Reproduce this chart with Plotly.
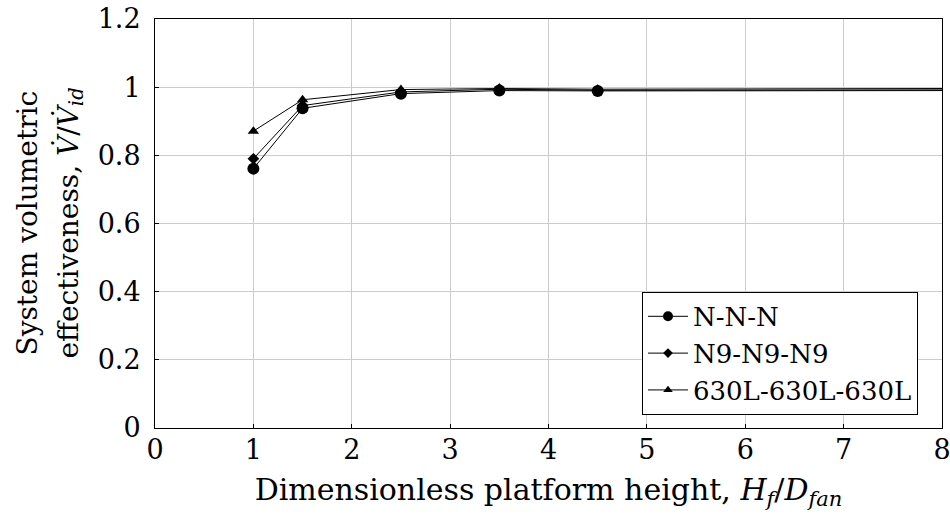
import plotly.graph_objects as go

x_vals = [1, 1.5, 2.5, 3.5, 4.5, 8]
nnn = [0.761, 0.938, 0.981, 0.990, 0.989, 0.990]
n9 = [0.790, 0.946, 0.986, 0.994, 0.991, 0.992]
l630 = [0.871, 0.963, 0.993, 0.996, 0.994, 0.996]
names = ["N-N-N", "N9-N9-N9", "630L-630L-630L"]
x_ticks = [0, 1, 2, 3, 4, 5, 6, 7, 8]
y_ticks = [0, 0.2, 0.4, 0.6, 0.8, 1, 1.2]
y_tick_text = ["0", "0.2", "0.4", "0.6", "0.8", "1", "1.2"]
y_title_lines = ["System volumetric", "effectiveness, <i>V\u0307</i>/<i>V\u0307<sub>id</sub></i>"]
x_title = "Dimensionless platform height, <i>H<sub>f</sub></i>/<i>D<sub>fan</sub></i>"

FONT = "DejaVu Serif"
symbols = ["circle", "diamond", "triangle-up"]
sizes = [12, 9, 10]

fig = go.Figure()
for ys, nm, sym, sz in zip([nnn, n9, l630], names, symbols, sizes):
    msize = [sz] * (len(x_vals) - 1) + [0]
    fig.add_trace(go.Scatter(
        x=x_vals, y=ys, name=nm, mode="lines+markers",
        line=dict(color="#000000", width=1),
        marker=dict(symbol=sym, size=msize, color="#000000", opacity=1,
                    line=dict(width=0, color="#000000")),
        cliponaxis=False,
    ))

tickfont = dict(family=FONT, size=27, color="#000000")
titlefont = dict(family=FONT, size=28, color="#000000")
xtitlefont = dict(family=FONT, size=30, color="#000000")

fig.update_layout(
    width=950, height=516,
    template="simple_white",
    margin=dict(l=155, r=8, t=19, b=88, autoexpand=False),
    paper_bgcolor="white", plot_bgcolor="white",
    font=dict(family=FONT, size=28, color="#000000"),
    showlegend=True,
)
common = dict(
    showline=True, linecolor="black", linewidth=1, mirror=True,
    showgrid=True, gridcolor="#cccccc", gridwidth=1,
    ticks="inside", ticklen=4, tickcolor="black", zeroline=False,
    tickfont=tickfont, automargin=False, ticklabeloverflow="allow",
)
fig.update_xaxes(
    range=[0, 8], tickvals=x_ticks, ticklabelstandoff=-2,
    title_text=x_title, title_font=xtitlefont, title_standoff=14,
    **common,
)
fig.update_yaxes(
    range=[0, 1.2], tickvals=y_ticks, ticktext=y_tick_text, ticklabelstandoff=8,
    **common,
)
# y-axis title as two stacked rotated lines
plot_l, plot_w = 155, 787
for line_txt, cx in zip(y_title_lines, [27, 70]):
    fig.add_annotation(
        text=line_txt, xref="paper", yref="paper",
        x=(cx - plot_l) / plot_w, y=0.5, xanchor="center", yanchor="middle",
        textangle=-90, showarrow=False, font=titlefont,
    )
fig.update_layout(
    legend=dict(x=0.9695, y=0.032, xanchor="right", yanchor="bottom",
                bordercolor="black", borderwidth=1, bgcolor="white",
                font=dict(family=FONT, size=26, color="#000000"),
                tracegroupgap=0, itemwidth=40),
)

fig.write_html("out.html")
